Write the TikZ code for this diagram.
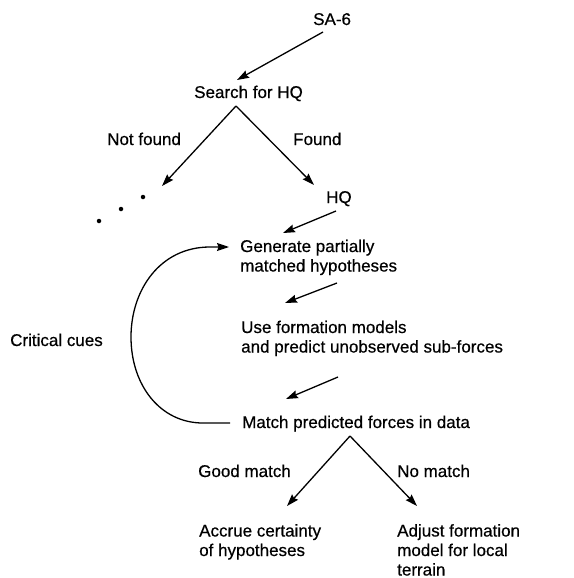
\documentclass[tikz,border=0pt]{standalone}
\usepackage{fontspec}
\setmainfont{Liberation Sans}
\newfontfamily\diagfont{Liberation Sans}[RawFeature={embolden=0.5}]
\usetikzlibrary{arrows.meta}
\begin{document}
\begin{tikzpicture}[x=1pt,y=-1pt,
  lbl/.style={inner sep=0pt, font=\diagfont\fontsize{17}{19.5}\selectfont},
  blk/.style={lbl, align=left, anchor=north west},
  flow/.style={line width=1.3pt, -{Stealth[length=12pt,width=8pt,inset=1.5pt]}},
  dot/.style={circle, fill=black, inner sep=0pt, minimum size=4.5pt}]
\useasboundingbox (0,0) rectangle (573,578);

% text nodes
\node[lbl, anchor=base west] (sa6) at (313,25) {SA-6};
\node[lbl, anchor=base west] (search) at (194,98) {Search for HQ};
\node[lbl, anchor=base west] (notfound) at (107,145) {Not found};
\node[lbl, anchor=base west] (found) at (293,145) {Found};
\node[lbl, anchor=base west] (hq) at (326,203) {HQ};
\node[blk] (generate) at (240,239.5) {Generate partially\\matched hypotheses};
\node[blk] (useform) at (241,320.5) {Use formation models\\and predict unobserved sub-forces};
\node[lbl, anchor=base west] (cues) at (10,346) {Critical cues};
\node[lbl, anchor=base west] (matchpred) at (242,428) {Match predicted forces in data};
\node[lbl, anchor=base west] (good) at (198,477) {Good match};
\node[lbl, anchor=base west] (nomatch) at (397,477) {No match};
\node[blk] (accrue) at (199,524) {Accrue certainty\\of hypotheses};
\node[blk] (adjust) at (397,524) {Adjust formation\\model for local\\terrain};

% trailing dots of the unexplored branch
\node[dot] (d1) at (143,197) {};
\node[dot] (d2) at (121,209) {};
\node[dot] (d3) at (99,221) {};

% connector end points
\coordinate (sa6-out) at (323,32);
\coordinate (search-in) at (237,80);
\coordinate (search-out) at (236,106);
\coordinate (notfound-end) at (162,186);
\coordinate (found-end) at (314,185);
\coordinate (hq-out) at (336,211);
\coordinate (gen-in) at (283,233);
\coordinate (gen-out) at (337,283);
\coordinate (use-in) at (285,303);
\coordinate (use-out) at (338,377);
\coordinate (match-in) at (286,399);
\coordinate (match-out) at (350,436);
\coordinate (good-end) at (287,506);
\coordinate (nomatch-end) at (417,506);
\coordinate (loop-start) at (230,423);
\coordinate (loop-end) at (229,247);

\draw[flow] (sa6-out) -- (search-in);
\draw[flow] (search-out) -- (notfound-end);
\draw[flow] (search-out) -- (found-end);
\draw[flow] (hq-out) -- (gen-in);
\draw[flow] (gen-out) -- (use-in);
\draw[flow] (use-out) -- (match-in);
\draw[flow] (match-out) -- (good-end);
\draw[flow] (match-out) -- (nomatch-end);

% feedback loop of critical cues
\draw[flow] (loop-start) -- (203,423)
  .. controls (160,423) and (131,385) .. (131,337)
  .. controls (131,290) and (160,247) .. (210,247) -- (loop-end);
\end{tikzpicture}
\end{document}
